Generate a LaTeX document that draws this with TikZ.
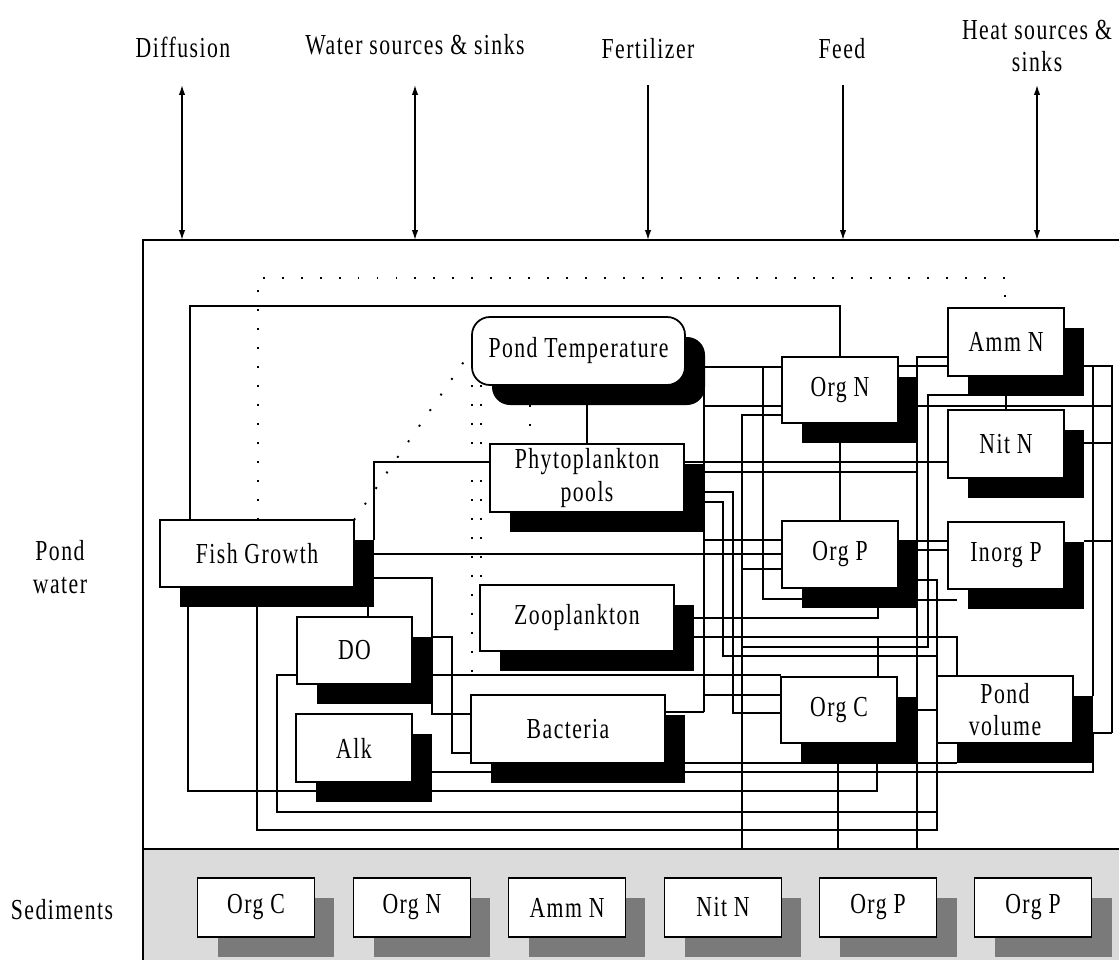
\documentclass[tikz,border=0pt]{standalone}
\usepackage{fontspec}
\setmainfont{Liberation Serif}[FakeStretch=0.75,LetterSpace=5]
\usetikzlibrary{arrows.meta}
\pgfdeclarelayer{back}
\pgfdeclarelayer{wires}
\pgfsetlayers{back,wires,main}

\tikzset{
  lbl/.style={font=\fontsize{16.5}{18.5}\selectfont, align=center, inner sep=0pt},
  box/.style={draw, line width=1pt, fill=white, inner sep=0pt, outer sep=0pt,
              font=\fontsize{16.5}{18.5}\selectfont, align=center},
  shad/.style={fill=black, inner sep=0pt, outer sep=0pt},
  sshad/.style={fill=black!52, inner sep=0pt, outer sep=0pt},
  wire/.style={line width=0.8pt},
  dotline/.style={line width=1.1pt, dash pattern=on 1.1pt off 9.7pt},
  flow/.style={line width=0.8pt, -{Latex[length=0.2cm,width=0.13cm]}},
  flowboth/.style={line width=0.8pt, {Latex[length=0.2cm,width=0.13cm]}-{Latex[length=0.2cm,width=0.13cm]}},
}

% a compartment box with its black drop shadow: [style]{name}{cx}{cy}{w}{h}{text}
\newcommand\mkbox[7][]{%
  \node[shad,#1,minimum width={#5*0.02cm},minimum height={#6*0.02cm}] (#2S) at ({#3+20},{#4+20}) {};
  \node[box,#1,minimum width={#5*0.02cm},minimum height={#6*0.02cm}] (#2) at (#3,#4) {#7};}
% a sediment compartment with a grey shadow: {name}{cx}{text}
\newcommand\mksed[3]{%
  \node[sshad,minimum width=2.34cm,minimum height=1.18cm] (#1S) at ({#2+20},927.5) {};
  \node[box,minimum width=2.34cm,minimum height=1.18cm] (#1) at (#2,907.5) {#3};}

\begin{document}
\begin{tikzpicture}[x=0.02cm,y=-0.02cm]
\useasboundingbox (0,0) rectangle (1119,960);

\begin{pgfonlayer}{back}
  \fill[white] (0,0) rectangle (1119,960);
  \node[draw, line width=1pt, anchor=north west, inner sep=0pt, outer sep=0pt,
        minimum width=19.8cm, minimum height=12.18cm] (pond) at (143,240) {};
  \node[draw, line width=0.8pt, fill=gray!28, anchor=north west, inner sep=0pt, outer sep=0pt,
        minimum width=19.8cm, minimum height=2.4cm] (sed) at (143,849) {};
\end{pgfonlayer}

% external drivers
\node[lbl] (lDiff) at (183,47) {Diffusion};
\node[lbl] (lWater) at (415,45) {Water sources \& sinks};
\node[lbl] (lFert) at (648,49) {Fertilizer};
\node[lbl] (lFeed) at (842,49) {Feed};
\node[lbl] (lHeat) at (1037,46) {Heat sources \&\\sinks};
\node[lbl] (lPond) at (60,567) {Pond\\water};
\node[lbl] (lSed) at (62,910) {Sediments};

\coordinate (aDiff) at (182,85);
\coordinate (aWater) at (415,85);
\coordinate (aFert) at (648,85);
\coordinate (aFeed) at (843,85);
\coordinate (aHeat) at (1037,85);
\draw[flowboth] (aDiff) -- (aDiff |- pond.north);
\draw[flowboth] (aWater) -- (aWater |- pond.north);
\draw[flow] (aFert) -- (aFert |- pond.north);
\draw[flow] (aFeed) -- (aFeed |- pond.north);
\draw[flowboth] (aHeat) -- (aHeat |- pond.north);

% pond water compartments
\mkbox{fish}{257}{553.5}{194}{67}{Fish Growth}
\mkbox[rounded corners=0.36cm]{temp}{578.5}{351}{213}{68}{Pond Temperature}
\mkbox{phyto}{587}{478}{194}{68}{Phytoplankton\\pools}
\mkbox{zoo}{577}{618}{194}{66}{Zooplankton}
\mkbox{dox}{354.5}{650.5}{115}{67}{DO}
\mkbox{alk}{354}{748}{116}{68}{Alk}
\mkbox{bact}{568}{729}{194}{68}{Bacteria}
\mkbox{orgn}{840}{390}{116}{66}{Org N}
\mkbox{orgp}{840}{554.5}{116}{67}{Org P}
\mkbox{orgc}{839}{710}{116}{66}{Org C}
\mkbox{ammn}{1006}{342}{116}{68}{Amm N}
\mkbox{nitn}{1006}{444}{116}{68}{Nit N}
\mkbox{inorgp}{1006}{555.5}{116}{67}{Inorg P}
\mkbox{vol}{1005}{709.5}{136}{67}{Pond\\volume}

% sediment compartments
\mksed{sOrgC}{256}{Org C}
\mksed{sOrgN}{412}{Org N}
\mksed{sAmmN}{567}{Amm N}
\mksed{sNitN}{723}{Nit N}
\mksed{sOrgP}{878}{Org P}
\mksed{sOrgPb}{1033}{Org P}

\begin{pgfonlayer}{wires}
  % fish growth links
  \draw[wire] (fish.north -| 190,0) -- (190,306) -- (840,306) -- (orgn.north);
  \draw[wire] (fishS.east |- 0,540) -- (374,462) -- (phyto.west |- 0,462);
  \draw[wire] (fishS.east |- 0,554) -- (orgp.west |- 0,554);
  \draw[wire] (fishS.east |- 0,578) -- (432,578) -- (432,714) -- (bact.west |- 0,714);
  \draw[wire] (fishS.south -| 368,0) -- (dox.north -| 368,0);
  \draw[wire] (fishS.south -| 257,0) -- (257,830) -- (937,830);
  \draw[wire] (fishS.south -| 188,0) -- (188,791) -- (877,791) -- (orgcS.south -| 877,0);
  % DO and alkalinity
  \draw[wire] (doxS.east |- 0,637) -- (452,637) -- (452,753) -- (bact.west |- 0,753);
  \draw[wire] (doxS.east |- 0,675) -- (orgc.north west |- 0,675);
  \draw[wire] (dox.west |- 0,675) -- (277,675) -- (277,812) -- (937,812);
  \draw[wire] (alkS.east |- 0,772) -- (1093,772) -- (1093,733) -- (1112,733);
  % bacteria
  \draw[wire] (bactS.east |- 0,763) -- (volS.west |- 0,763);
  \draw[wire] (bact.east |- 0,712) -- (704,712);
  % pond temperature
  \draw[wire] (tempS.east |- 0,367) -- (orgn.west |- 0,367);
  \draw[wire] (tempS.east |- 0,406) -- (1112,406);
  \draw[wire] (704,367) -- (704,712);
  \draw[wire] (704,540) -- (orgp.west |- 0,540);
  \draw[wire] (704,695) -- (orgc.west |- 0,695);
  \draw[wire] (763,367) -- (763,599) -- (orgpS.west |- 0,599);
  \draw[wire] (tempS.south -| phyto.north) -- (phyto.north);
  % phytoplankton
  \draw[wire] (phyto.east |- 0,462) -- (nitn.west |- 0,462);
  \draw[wire] (phytoS.east |- 0,472) -- (917,472);
  \draw[wire] (phytoS.east |- 0,492) -- (733,492) -- (733,713) -- (orgc.west |- 0,713);
  \draw[wire] (phytoS.east |- 0,502) -- (723,502) -- (723,656) -- (937,656);
  % zooplankton
  \draw[wire] (zooS.east |- 0,618) -- (878,618) -- (orgpS.south -| 878,0);
  \draw[wire] (zooS.east |- 0,637) -- (957,637) -- (vol.north -| 957,0);
  \draw[wire] (878,637) -- (orgc.north -| 878,0);
  % organic pools
  \draw[wire] (orgn.west |- 0,415) -- (742,415) -- (sed.north -| 742,0);
  \draw[wire] (orgp.west |- 0,569) -- (742,569);
  \draw[wire] (orgnS.south -| orgp.north) -- (orgp.north);
  \draw[wire] (orgn.east |- 0,366) -- (ammn.west |- 0,366);
  \draw[wire] (orgp.east |- 0,541) -- (inorgp.west |- 0,541);
  \draw[wire] (orgpS.east |- 0,550) -- (inorgp.west |- 0,550);
  \draw[wire] (orgcS.south -| 838,0) -- (sed.north -| 838,0);
  % nitrogen and phosphorus pools
  \draw[wire] (ammn.west |- 0,357) -- (917,357) -- (sed.north -| 917,0);
  \draw[wire] (ammnS.south -| nitn.north) -- (nitn.north);
  \draw[wire] (ammnS.west |- 0,395) -- (928,395) -- (928,647) -- (742,647);
  \draw[wire] (917,580) -- (937,580) -- (937,831);
  \draw[wire] (917,600) -- (957,600);
  \draw[wire] (917,710) -- (vol.west |- 0,710);
  % right-hand bus to pond volume
  \draw[wire] (ammnS.east |- 0,366) -- (1112,366) -- (1112,733);
  \draw[wire] (1093,366) -- (volS.north east);
  \draw[wire] (nitnS.east |- 0,443) -- (1112,443);
  \draw[wire] (inorgpS.east |- 0,541) -- (1112,541);
  % temperature influences (dotted)
  \draw[dotline] (fish.north -| 258,0) -- (258,278) -- (1005,278) -- (ammn.north -| 1005,0);
  \draw[dotline] (fish.north east) -- (temp.west |- 0,350);
  \draw[dotline] (temp.south -| 472,0) -- (472,675);
  \draw[dotline] (temp.south -| 481,0) -- (zoo.north -| 481,0);
  \draw[dotline] (tempS.south -| 530,0) -- (phyto.north -| 530,0);
\end{pgfonlayer}
\end{tikzpicture}
\end{document}
